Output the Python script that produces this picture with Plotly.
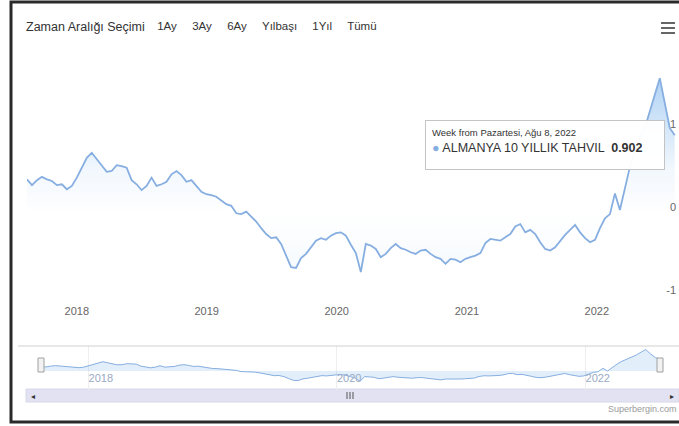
import plotly.graph_objects as go
import pandas as pd

# ---------------- data ----------------
start_date = "2017-08-14"          # first weekly (Monday) observation, 2-week sampling
series_name = "ALMANYA 10 YILLIK TAHVIL"
values = [
    0.37, 0.30, 0.36, 0.40, 0.37, 0.35, 0.30, 0.31, 0.25, 0.29,
    0.39, 0.52, 0.63, 0.69, 0.61, 0.54, 0.46, 0.47, 0.54, 0.53,
    0.51, 0.36, 0.31, 0.24, 0.29, 0.39, 0.29, 0.31, 0.34, 0.43,
    0.47, 0.42, 0.34, 0.36, 0.29, 0.22, 0.19, 0.18, 0.16, 0.12,
    0.07, 0.05, -0.04, -0.05, -0.02, -0.08, -0.14, -0.22, -0.29, -0.34,
    -0.33, -0.41, -0.55, -0.69, -0.70, -0.58, -0.53, -0.45, -0.37, -0.34,
    -0.36, -0.31, -0.28, -0.27, -0.31, -0.42, -0.52, -0.75, -0.41, -0.43,
    -0.47, -0.57, -0.53, -0.46, -0.41, -0.46, -0.48, -0.51, -0.53, -0.49,
    -0.48, -0.53, -0.57, -0.59, -0.65, -0.59, -0.60, -0.63, -0.59, -0.57,
    -0.55, -0.52, -0.40, -0.35, -0.36, -0.37, -0.33, -0.29, -0.20, -0.17,
    -0.27, -0.24, -0.29, -0.39, -0.47, -0.49, -0.45, -0.37, -0.30, -0.24,
    -0.18, -0.27, -0.34, -0.39, -0.36, -0.22, -0.10, -0.05, 0.20, 0.00,
    0.27, 0.52, 0.72, 0.87, 0.99, 1.18, 1.39, 1.59, 1.27, 0.99,
    0.902,
]
dates = pd.date_range(start_date, periods=len(values), freq="14D")

range_labels = ["1Ay", "3Ay", "6Ay", "Yılbaşı", "1Yıl", "Tümü"]
selector_title = "Zaman Aralığı Seçimi"
y_ticks = [-1, 0, 1]
y_ticktext = ["-1", "0", "1"]
tr_months = ["Oca", "Şub", "Mar", "Nis", "May", "Haz", "Tem", "Ağu", "Eyl", "Eki", "Kas", "Ara"]
tr_days = ["Pazartesi", "Salı", "Çarşamba", "Perşembe", "Cuma", "Cumartesi", "Pazar"]
credit_text = "Superbergin.com"

# ---------------- helpers (page pixel -> paper) ----------------
W, H = 679, 426
def px(x):
    return x / W
def py(y):
    return 1 - y / H

FONT = "Liberation Sans, Arial, sans-serif"
line_color = "#86aee0"

fig = go.Figure()

# main series
fig.add_trace(go.Scatter(
    x=dates, y=values, mode="lines", name=series_name,
    line=dict(color=line_color, width=1.8),
    fill="tozeroy",
    fillgradient=dict(
        type="vertical",
        colorscale=[[0, "rgba(124,181,236,0.10)"], [0.35, "rgba(124,181,236,0.0)"],
                    [0.55, "rgba(124,181,236,0.10)"], [1, "rgba(124,181,236,0.65)"]],
        start=-1.0, stop=1.7,
    ),
    hovertemplate="%{x|%d.%m.%Y}<br>" + series_name + " <b>%{y:.3f}</b><extra></extra>",
))

# navigator series
fig.add_trace(go.Scatter(
    x=dates, y=values, mode="lines", xaxis="x2", yaxis="y2",
    line=dict(color=line_color, width=1),
    fill="tozeroy", fillcolor="rgba(124,181,236,0.22)",
    hoverinfo="skip", showlegend=False,
))

buttons = [
    dict(count=1, label=range_labels[0], step="month", stepmode="backward"),
    dict(count=3, label=range_labels[1], step="month", stepmode="backward"),
    dict(count=6, label=range_labels[2], step="month", stepmode="backward"),
    dict(count=1, label=range_labels[3], step="year", stepmode="todate"),
    dict(count=1, label=range_labels[4], step="year", stepmode="backward"),
    dict(label=range_labels[5], step="all"),
]

end_view = dates[-1] + pd.Timedelta(days=12)

fig.update_layout(
    width=W, height=H,
    margin=dict(l=0, r=0, t=0, b=0, autoexpand=False),
    paper_bgcolor="white", plot_bgcolor="white",
    showlegend=False,
    font=dict(family=FONT, size=11, color="#333333"),
    xaxis=dict(
        domain=[px(27), 1.0], anchor="y", type="date",
        range=[dates[0], end_view],
        tickformat="%Y", dtick="M12", tick0="2018-01-01",
        showgrid=False, zeroline=False, showline=False, ticks="",
        ticklabelstandoff=6,
        tickfont=dict(size=11, color="#666666"),
        rangeselector=dict(
            buttons=buttons, x=px(152), y=py(17), xanchor="left", yanchor="top",
            bgcolor="white", activecolor="white", bordercolor="white", borderwidth=0,
            font=dict(size=11.5, color="#333333"),
        ),
    ),
    yaxis=dict(
        domain=[py(297), py(50)], anchor="x", side="right",
        range=[-1.05, 1.93],
        tickvals=y_ticks, ticktext=y_ticktext, ticklabelposition="inside",
        ticklabeloverflow="allow", ticklabelshift=-3,
        tickfont=dict(size=11, color="#666666"),
        showgrid=False, zeroline=False, showline=False, ticks="",
    ),
    xaxis2=dict(
        domain=[px(41), px(660)], anchor="y2", type="date",
        range=[dates[0], dates[-1]],
        tickformat="%Y", dtick="M24", tick0="2018-01-01",
        ticklabelposition="inside right",
        tickfont=dict(size=11, color="#9aaac4"),
        showgrid=True, gridcolor="#eeeeee", zeroline=False, showline=False, ticks="",
    ),
    yaxis2=dict(
        domain=[py(390), py(346)], anchor="x2",
        range=[-1.4, 1.85], visible=False, showgrid=False,
    ),
)

last_date = dates[-1]
tooltip_head = f"Week from {tr_days[last_date.weekday()]}, {tr_months[last_date.month - 1]} {last_date.day}, {last_date.year}"
tooltip_text = (
    f"<span style='font-size:9.5px'>{tooltip_head}</span><br>"
    f"<span style='color:{line_color}'>●</span> {series_name}  <b>{values[-1]:.3f}</b>"
)

annotations = [
    dict(xref="paper", yref="paper", x=px(24), y=py(27), xanchor="left", yanchor="middle",
         text=selector_title, showarrow=False, font=dict(size=12.5, color="#333333")),
    dict(xref="paper", yref="paper", x=px(425), y=py(120), xanchor="left", yanchor="top",
         text=tooltip_text, showarrow=False, align="left", valign="top", width=226, height=36,
         bgcolor="rgba(255,255,255,0.96)", bordercolor="#c4c4c4", borderwidth=1, borderpad=6,
         font=dict(size=12.5, color="#333333")),
    dict(xref="paper", yref="paper", x=1.0, y=py(409), xanchor="right", yanchor="middle",
         text=credit_text, showarrow=False, font=dict(size=9, color="#9a9a9a")),
    dict(xref="paper", yref="paper", x=px(33), y=py(396), xanchor="center", yanchor="middle",
         text="◂", showarrow=False, font=dict(size=8, color="#333333")),
    dict(xref="paper", yref="paper", x=px(672), y=py(396), xanchor="center", yanchor="middle",
         text="▸", showarrow=False, font=dict(size=8, color="#333333")),
]

shapes = [
    # screenshot frame
    dict(type="rect", xref="paper", yref="paper", x0=px(11), x1=1.05, y0=py(422), y1=py(2),
         line=dict(color="#2a2a2a", width=3), fillcolor="rgba(0,0,0,0)", layer="above"),
    # navigator outline
    dict(type="line", xref="paper", yref="paper", x0=px(18), x1=1.0, y0=py(346), y1=py(346),
         line=dict(color="#d0d0d0", width=1)),
    # scrollbar
    dict(type="rect", xref="paper", yref="paper", x0=px(26), x1=px(679), y0=py(402), y1=py(389),
         line=dict(color="#d8d8e8", width=1), fillcolor="#e2e2f2", layer="below"),
    # navigator handles
    dict(type="rect", xref="paper", yref="paper", x0=px(38), x1=px(44), y0=py(372), y1=py(358),
         line=dict(color="#a0a0a0", width=1), fillcolor="#f2f2f2"),
    dict(type="rect", xref="paper", yref="paper", x0=px(657), x1=px(663), y0=py(372), y1=py(358),
         line=dict(color="#a0a0a0", width=1), fillcolor="#f2f2f2"),
]
# scrollbar grip
for gx in (347, 350, 353):
    shapes.append(dict(type="line", xref="paper", yref="paper", x0=px(gx), x1=px(gx),
                       y0=py(399), y1=py(392), line=dict(color="#555555", width=1)))
# export menu (hamburger)
for hy in (23, 28, 33):
    shapes.append(dict(type="line", xref="paper", yref="paper", x0=px(661), x1=px(675),
                       y0=py(hy), y1=py(hy), line=dict(color="#666666", width=2)))

fig.update_layout(annotations=annotations, shapes=shapes)

fig.write_html(
    "out.html",
    config={"displayModeBar": False},
    post_script="document.body.style.margin='0';document.body.style.overflow='hidden';",
)
